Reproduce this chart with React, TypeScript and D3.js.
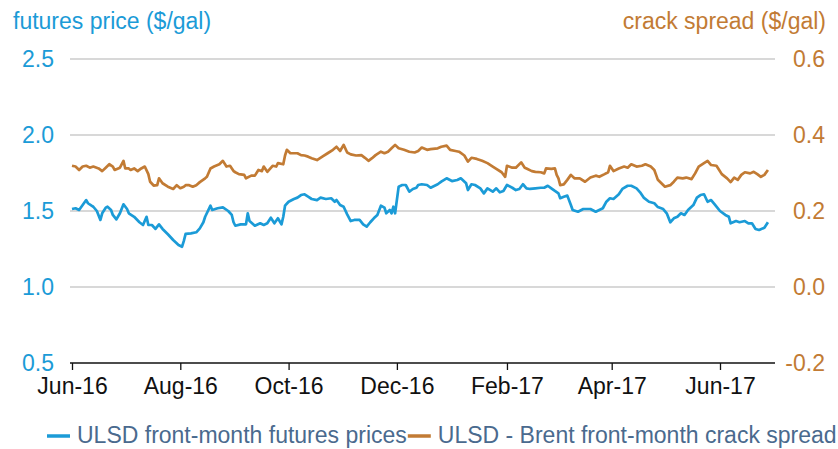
import { useEffect, useRef } from "react";
import * as d3 from "d3";

// ULSD front-month futures price ($/gal)
const futuresPrices: [string, number][] = [
  ["2016-06-01",1.513],["2016-06-03",1.518],["2016-06-05",1.507],["2016-06-07",1.539],["2016-06-09",1.572],["2016-06-10",1.551],
  ["2016-06-12",1.535],["2016-06-13",1.528],["2016-06-15",1.500],["2016-06-17",1.441],["2016-06-18",1.485],["2016-06-20",1.522],
  ["2016-06-21",1.528],["2016-06-23",1.507],["2016-06-24",1.474],["2016-06-26",1.445],["2016-06-28",1.485],["2016-06-30",1.544],
  ["2016-07-02",1.513],["2016-07-03",1.485],["2016-07-06",1.462],["2016-07-09",1.426],["2016-07-11",1.408],["2016-07-13",1.462],
  ["2016-07-14",1.408],["2016-07-16",1.408],["2016-07-18",1.382],["2016-07-20",1.412],["2016-07-22",1.382],["2016-07-25",1.347],
  ["2016-07-28",1.309],["2016-07-31",1.276],["2016-08-02",1.265],["2016-08-03",1.303],["2016-08-04",1.349],["2016-08-07",1.353],
  ["2016-08-10",1.360],["2016-08-12",1.386],["2016-08-14",1.426],["2016-08-15",1.462],["2016-08-18",1.535],["2016-08-19",1.507],
  ["2016-08-22",1.518],["2016-08-25",1.524],["2016-08-28",1.500],["2016-08-30",1.474],["2016-08-31",1.426],["2016-09-01",1.403],
  ["2016-09-04",1.412],["2016-09-07",1.412],["2016-09-08",1.485],["2016-09-09",1.434],["2016-09-12",1.403],["2016-09-15",1.419],
  ["2016-09-17",1.408],["2016-09-19",1.419],["2016-09-21",1.456],["2016-09-23",1.419],["2016-09-25",1.452],["2016-09-27",1.412],
  ["2016-09-28",1.462],["2016-09-29",1.535],["2016-10-01",1.561],["2016-10-04",1.579],["2016-10-06",1.588],["2016-10-08",1.605],
  ["2016-10-10",1.610],["2016-10-12",1.594],["2016-10-14",1.579],["2016-10-17",1.572],["2016-10-19",1.588],["2016-10-22",1.579],
  ["2016-10-25",1.584],["2016-10-27",1.561],["2016-10-28",1.572],["2016-10-30",1.539],["2016-11-01",1.528],["2016-11-03",1.478],
  ["2016-11-05",1.434],["2016-11-07",1.441],["2016-11-10",1.441],["2016-11-12",1.412],["2016-11-14",1.397],["2016-11-16",1.426],
  ["2016-11-18",1.452],["2016-11-20",1.474],["2016-11-22",1.535],["2016-11-24",1.522],["2016-11-25",1.485],["2016-11-27",1.507],
  ["2016-11-28",1.485],["2016-11-29",1.528],["2016-11-30",1.485],["2016-12-02",1.660],["2016-12-04",1.671],["2016-12-06",1.671],
  ["2016-12-08",1.627],["2016-12-10",1.645],["2016-12-12",1.653],["2016-12-13",1.671],["2016-12-15",1.676],["2016-12-18",1.671],
  ["2016-12-20",1.653],["2016-12-24",1.676],["2016-12-26",1.693],["2016-12-29",1.715],["2017-01-01",1.697],["2017-01-04",1.704],
  ["2017-01-06",1.715],["2017-01-09",1.682],["2017-01-10",1.638],["2017-01-12",1.676],["2017-01-14",1.671],["2017-01-17",1.649],
  ["2017-01-19",1.616],["2017-01-21",1.649],["2017-01-24",1.627],["2017-01-26",1.649],["2017-01-28",1.623],["2017-01-30",1.632],
  ["2017-02-01",1.671],["2017-02-04",1.653],["2017-02-06",1.638],["2017-02-08",1.645],["2017-02-10",1.676],["2017-02-12",1.649],
  ["2017-02-14",1.645],["2017-02-17",1.649],["2017-02-20",1.653],["2017-02-22",1.653],["2017-02-24",1.666],["2017-02-26",1.649],
  ["2017-02-28",1.632],["2017-03-02",1.616],["2017-03-03",1.584],["2017-03-05",1.594],["2017-03-07",1.601],["2017-03-09",1.539],
  ["2017-03-10",1.507],["2017-03-13",1.495],["2017-03-16",1.513],["2017-03-20",1.513],["2017-03-23",1.495],["2017-03-25",1.507],
  ["2017-03-27",1.518],["2017-03-29",1.561],["2017-03-31",1.584],["2017-04-02",1.579],["2017-04-05",1.610],["2017-04-07",1.645],
  ["2017-04-10",1.666],["2017-04-12",1.666],["2017-04-15",1.649],["2017-04-17",1.623],["2017-04-19",1.588],["2017-04-22",1.561],
  ["2017-04-25",1.551],["2017-04-27",1.526],["2017-04-30",1.513],["2017-05-02",1.485],["2017-05-04",1.426],["2017-05-06",1.452],
  ["2017-05-08",1.462],["2017-05-10",1.485],["2017-05-12",1.474],["2017-05-14",1.507],["2017-05-17",1.539],["2017-05-19",1.588],
  ["2017-05-21",1.605],["2017-05-23",1.610],["2017-05-25",1.561],["2017-05-27",1.572],["2017-05-29",1.544],["2017-06-01",1.500],
  ["2017-06-04",1.474],["2017-06-06",1.462],["2017-06-07",1.419],["2017-06-10",1.434],["2017-06-12",1.426],["2017-06-15",1.434],
  ["2017-06-17",1.419],["2017-06-19",1.419],["2017-06-21",1.382],["2017-06-23",1.375],["2017-06-26",1.390],["2017-06-28",1.426],
];

// ULSD - Brent front-month crack spread ($/gal)
const crackSpread: [string, number][] = [
  ["2016-06-01",0.319],["2016-06-03",0.317],["2016-06-05",0.308],["2016-06-07",0.317],["2016-06-09",0.319],["2016-06-11",0.314],
  ["2016-06-13",0.317],["2016-06-16",0.312],["2016-06-18",0.305],["2016-06-20",0.314],["2016-06-22",0.323],["2016-06-24",0.317],
  ["2016-06-25",0.308],["2016-06-27",0.312],["2016-06-28",0.314],["2016-06-30",0.332],["2016-07-01",0.312],["2016-07-03",0.312],
  ["2016-07-04",0.308],["2016-07-06",0.312],["2016-07-08",0.305],["2016-07-10",0.312],["2016-07-12",0.317],["2016-07-14",0.297],
  ["2016-07-15",0.277],["2016-07-17",0.267],["2016-07-19",0.268],["2016-07-20",0.286],["2016-07-22",0.273],["2016-07-25",0.264],
  ["2016-07-28",0.258],["2016-07-30",0.268],["2016-08-01",0.260],["2016-08-03",0.264],["2016-08-04",0.268],["2016-08-06",0.268],
  ["2016-08-08",0.264],["2016-08-10",0.268],["2016-08-12",0.276],["2016-08-15",0.286],["2016-08-16",0.290],["2016-08-18",0.312],
  ["2016-08-20",0.317],["2016-08-23",0.323],["2016-08-25",0.332],["2016-08-27",0.317],["2016-08-29",0.319],["2016-08-31",0.305],
  ["2016-09-01",0.302],["2016-09-03",0.297],["2016-09-06",0.295],["2016-09-07",0.286],["2016-09-10",0.293],["2016-09-12",0.293],
  ["2016-09-14",0.308],["2016-09-16",0.305],["2016-09-17",0.317],["2016-09-19",0.303],["2016-09-22",0.319],["2016-09-24",0.317],
  ["2016-09-25",0.326],["2016-09-28",0.323],["2016-09-29",0.346],["2016-09-30",0.361],["2016-10-02",0.352],["2016-10-04",0.352],
  ["2016-10-06",0.352],["2016-10-08",0.347],["2016-10-10",0.346],["2016-10-12",0.343],["2016-10-14",0.339],["2016-10-17",0.334],
  ["2016-10-20",0.343],["2016-10-23",0.352],["2016-10-26",0.361],["2016-10-28",0.369],["2016-10-30",0.358],["2016-11-01",0.374],
  ["2016-11-03",0.354],["2016-11-05",0.349],["2016-11-08",0.346],["2016-11-11",0.347],["2016-11-13",0.340],["2016-11-15",0.332],
  ["2016-11-17",0.339],["2016-11-19",0.347],["2016-11-22",0.356],["2016-11-24",0.352],["2016-11-26",0.356],["2016-11-28",0.365],
  ["2016-11-30",0.374],["2016-12-02",0.365],["2016-12-05",0.361],["2016-12-08",0.356],["2016-12-11",0.354],["2016-12-13",0.358],
  ["2016-12-15",0.367],["2016-12-18",0.361],["2016-12-20",0.363],["2016-12-24",0.365],["2016-12-26",0.369],["2016-12-29",0.372],
  ["2016-12-31",0.361],["2017-01-03",0.358],["2017-01-05",0.356],["2017-01-08",0.346],["2017-01-10",0.330],["2017-01-12",0.340],
  ["2017-01-15",0.337],["2017-01-18",0.332],["2017-01-21",0.326],["2017-01-24",0.317],["2017-01-26",0.311],["2017-01-29",0.302],
  ["2017-01-31",0.290],["2017-02-01",0.319],["2017-02-04",0.314],["2017-02-06",0.314],["2017-02-09",0.328],["2017-02-11",0.314],
  ["2017-02-12",0.312],["2017-02-15",0.305],["2017-02-17",0.303],["2017-02-20",0.302],["2017-02-22",0.299],["2017-02-23",0.312],
  ["2017-02-26",0.311],["2017-02-28",0.312],["2017-03-01",0.295],["2017-03-02",0.286],["2017-03-03",0.268],["2017-03-05",0.270],
  ["2017-03-07",0.282],["2017-03-09",0.295],["2017-03-11",0.286],["2017-03-14",0.286],["2017-03-17",0.277],["2017-03-20",0.288],
  ["2017-03-23",0.293],["2017-03-25",0.290],["2017-03-28",0.297],["2017-03-30",0.302],["2017-03-31",0.319],["2017-04-02",0.305],
  ["2017-04-05",0.312],["2017-04-08",0.317],["2017-04-10",0.314],["2017-04-12",0.323],["2017-04-15",0.317],["2017-04-18",0.319],
  ["2017-04-20",0.323],["2017-04-23",0.317],["2017-04-25",0.308],["2017-04-26",0.295],["2017-04-27",0.282],["2017-04-29",0.273],
  ["2017-05-01",0.264],["2017-05-04",0.268],["2017-05-06",0.277],["2017-05-08",0.288],["2017-05-11",0.286],["2017-05-13",0.288],
  ["2017-05-16",0.284],["2017-05-18",0.299],["2017-05-20",0.317],["2017-05-23",0.326],["2017-05-25",0.332],["2017-05-27",0.321],
  ["2017-05-30",0.319],["2017-05-31",0.312],["2017-06-02",0.297],["2017-06-05",0.286],["2017-06-07",0.276],["2017-06-09",0.288],
  ["2017-06-11",0.282],["2017-06-13",0.295],["2017-06-15",0.302],["2017-06-18",0.299],["2017-06-20",0.303],["2017-06-22",0.297],
  ["2017-06-24",0.290],["2017-06-26",0.295],["2017-06-28",0.308],
];

const leftTicks = [0.5, 1.0, 1.5, 2.0, 2.5];
const rightTicks = [-0.2, 0.0, 0.2, 0.4, 0.6];
const xTickDates = ["2016-06-01", "2016-08-01", "2016-10-01", "2016-12-01", "2017-02-01", "2017-04-01", "2017-06-01"];
const legendItems = ["ULSD front-month futures prices", "ULSD - Brent front-month crack spread"];

const BLUE = "#1b9bd7";
const ORANGE = "#c27b34";
const FONT = "'Liberation Sans', Arial, sans-serif";

// plain hyphen for negatives, like the original
const fmt = (d: number) => d.toFixed(1);

export default function App() {
  const svgRef = useRef(null);

  useEffect(() => {
    const svg = d3.select(svgRef.current);
    svg.selectAll("*").remove();

    const parse = d3.timeParse("%Y-%m-%d");
    const plotLeft = 70, plotRight = 775;

    const x = d3.scaleTime()
      .domain([parse("2016-06-01"), parse("2017-06-01")])
      .range([72, 720]);
    const yLeft = d3.scaleLinear().domain([0.5, 2.5]).range([363, 59]);
    const yRight = d3.scaleLinear().domain([-0.2, 0.6]).range([363, 59]);

    // gridlines
    svg.append("g")
      .selectAll("line")
      .data(leftTicks.slice(1))
      .join("line")
      .attr("x1", plotLeft)
      .attr("x2", plotRight)
      .attr("y1", d => yLeft(d))
      .attr("y2", d => yLeft(d))
      .attr("stroke", "#cbcbcb")
      .attr("stroke-width", 1.5);

    // x axis
    const xAxis = d3.axisBottom(x)
      .tickValues(xTickDates.map(d => parse(d)))
      .tickFormat(d3.timeFormat("%b-%y"))
      .tickSize(7)
      .tickSizeOuter(0)
      .tickPadding(8);
    const gx = svg.append("g")
      .attr("transform", `translate(0, ${yLeft(0.5)})`)
      .call(xAxis);
    gx.select(".domain").remove();
    gx.selectAll(".tick line").attr("stroke", "#111").attr("stroke-width", 1.3);
    gx.selectAll(".tick text")
      .attr("fill", "#111")
      .style("font-family", FONT)
      .style("font-size", "23px");
    svg.append("line")
      .attr("x1", plotLeft).attr("x2", plotRight)
      .attr("y1", yLeft(0.5)).attr("y2", yLeft(0.5))
      .attr("stroke", "#111")
      .attr("stroke-width", 1.5);

    // left axis labels
    svg.append("g")
      .selectAll("text")
      .data(leftTicks)
      .join("text")
      .attr("x", 54)
      .attr("y", d => yLeft(d))
      .attr("dy", "0.36em")
      .attr("text-anchor", "end")
      .attr("fill", BLUE)
      .style("font-family", FONT)
      .style("font-size", "23px")
      .text(d => fmt(d));

    // right axis labels
    svg.append("g")
      .selectAll("text")
      .data(rightTicks)
      .join("text")
      .attr("x", 825)
      .attr("y", d => yRight(d))
      .attr("dy", "0.36em")
      .attr("text-anchor", "end")
      .attr("fill", ORANGE)
      .style("font-family", FONT)
      .style("font-size", "23px")
      .text(d => fmt(d));

    // axis titles
    svg.append("text")
      .attr("x", 13).attr("y", 29)
      .attr("fill", BLUE)
      .style("font-family", FONT).style("font-size", "23px")
      .text("futures price ($/gal)");
    svg.append("text")
      .attr("x", 826).attr("y", 29)
      .attr("text-anchor", "end")
      .attr("fill", ORANGE)
      .style("font-family", FONT).style("font-size", "23px")
      .text("crack spread ($/gal)");

    // lines
    const blueLine = d3.line<[string, number]>()
      .x(d => x(parse(d[0])))
      .y(d => yLeft(d[1]));
    const orangeLine = d3.line<[string, number]>()
      .x(d => x(parse(d[0])))
      .y(d => yRight(d[1]));

    svg.append("path")
      .datum(crackSpread)
      .attr("d", orangeLine)
      .attr("fill", "none")
      .attr("stroke", ORANGE)
      .attr("stroke-width", 2.7)
      .attr("stroke-linejoin", "round");
    svg.append("path")
      .datum(futuresPrices)
      .attr("d", blueLine)
      .attr("fill", "none")
      .attr("stroke", BLUE)
      .attr("stroke-width", 2.7)
      .attr("stroke-linejoin", "round");

    // legend
    const legendColors = [BLUE, ORANGE];
    let cursor = 47;
    legendItems.forEach((label, i) => {
      svg.append("line")
        .attr("x1", cursor).attr("x2", cursor + 23)
        .attr("y1", 436).attr("y2", 436)
        .attr("stroke", legendColors[i])
        .attr("stroke-width", 3.5);
      const t = svg.append("text")
        .attr("x", cursor + 30).attr("y", 443)
        .attr("fill", "#4a6a8e")
        .style("font-family", FONT).style("font-size", "23px")
        .text(label);
      const node = t.node() as SVGTextElement;
      cursor = cursor + 30 + node.getComputedTextLength() + 1;
    });
  }, []);

  return (
    <svg
      ref={svgRef}
      width={838}
      height={449}
      style={{ position: "absolute", left: 0, top: 0, background: "#fff" }}
    />
  );
}
